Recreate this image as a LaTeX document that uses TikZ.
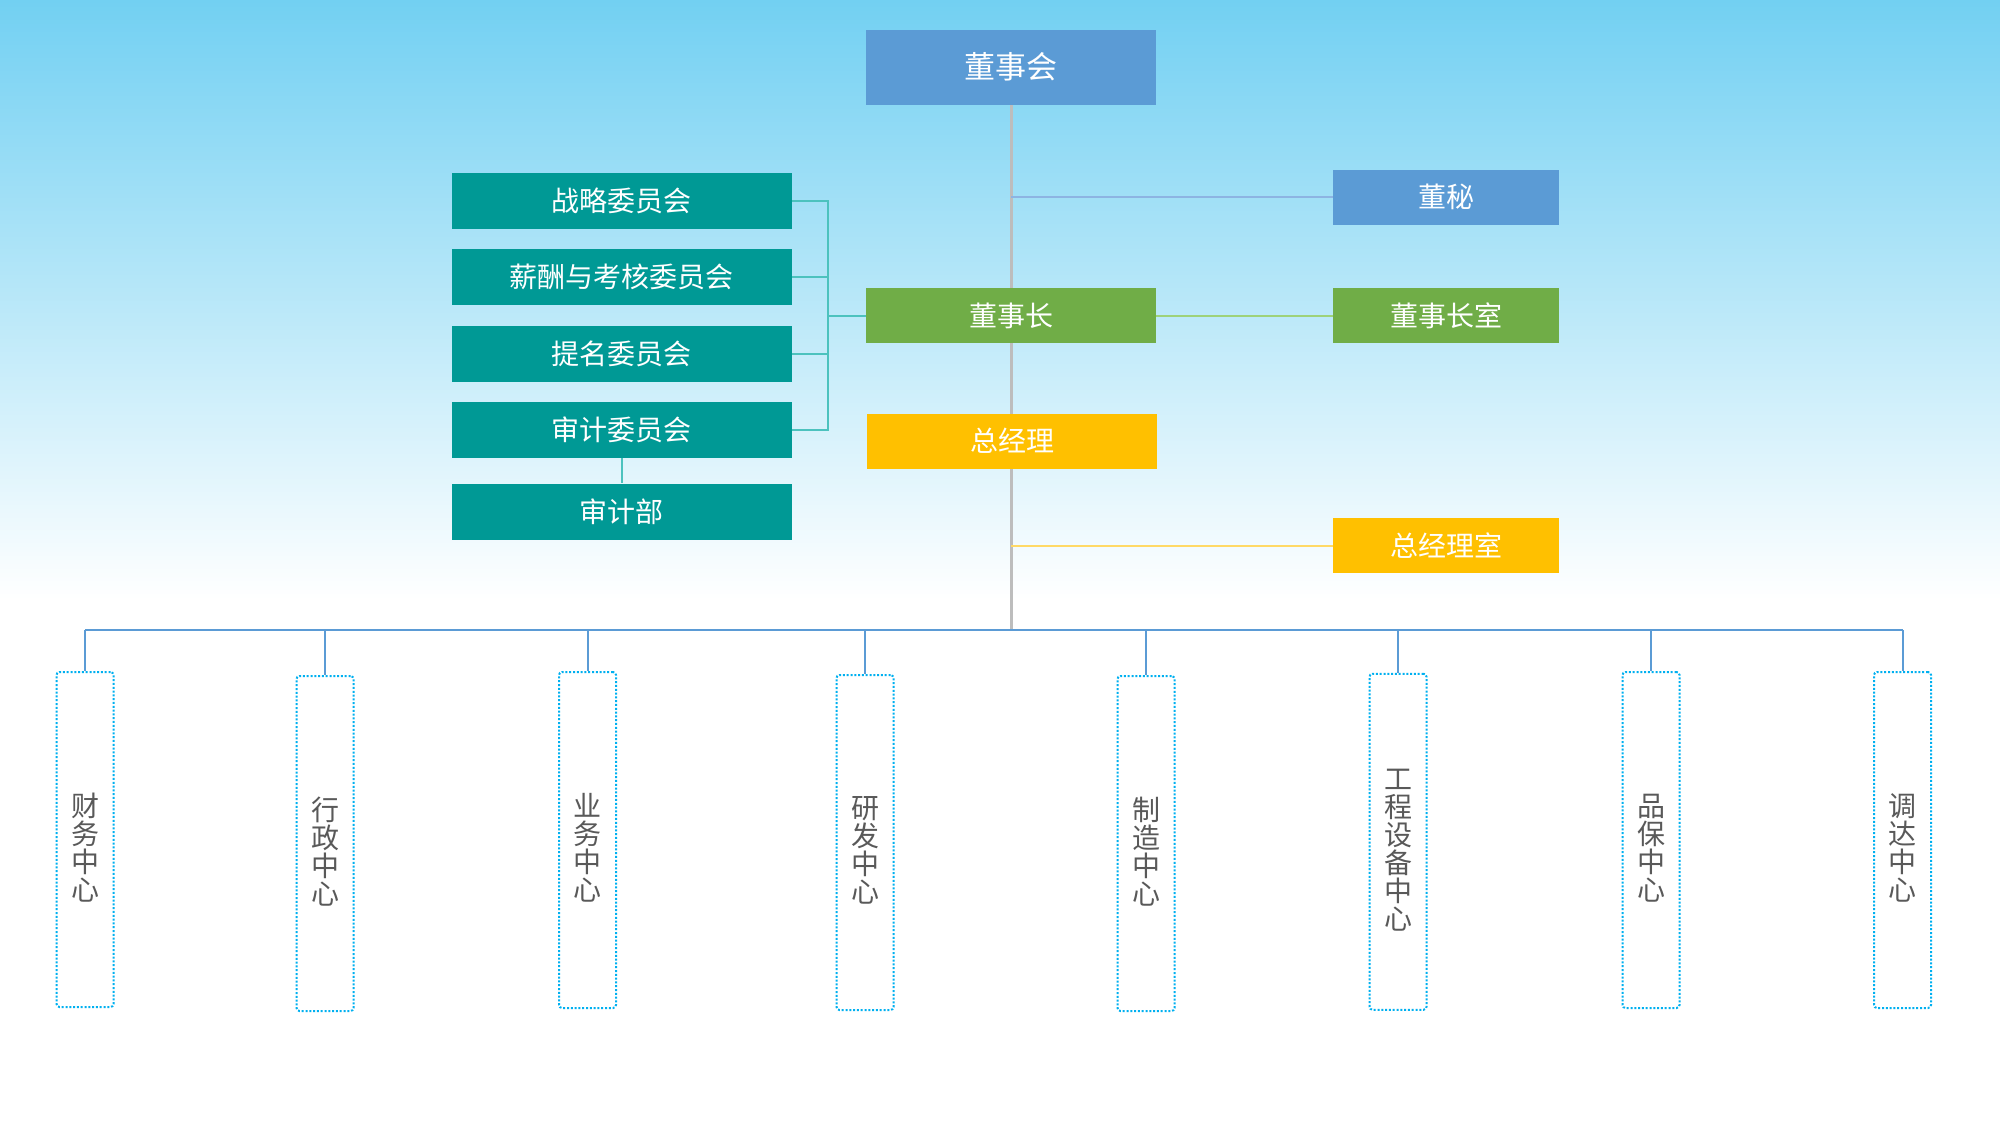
\documentclass[tikz,border=0pt]{standalone}
\usepackage{fontspec}
\newfontfamily\cjk{Noto Sans CJK SC}
\definecolor{cblue}{HTML}{5B9BD5}
\definecolor{cgreen}{HTML}{70AD47}
\definecolor{cyellow}{HTML}{FFC000}
\definecolor{cteal}{HTML}{009995}
\definecolor{cgray}{HTML}{BDBDBD}
\definecolor{lblue}{HTML}{8DB4E2}
\definecolor{lgreen}{HTML}{9ED27A}
\definecolor{lyellow}{HTML}{FFD966}
\definecolor{lteal}{HTML}{4CC2BE}
\definecolor{cdot}{HTML}{00B0F0}
\definecolor{tgray}{HTML}{595959}
\definecolor{bgtop}{RGB}{114,208,242}
\pgfdeclarelayer{back}
\pgfdeclarelayer{bg}
\pgfsetlayers{back,bg,main}
\tikzset{
  box/.style={rectangle, inner sep=0pt, text=white, font=\cjk\fontsize{14}{16}\selectfont},
  topbox/.style={box, minimum width=145pt, minimum height=27.5pt},
  sidebox/.style={box, minimum width=113pt, minimum height=27.5pt},
  combox/.style={box, fill=cteal, minimum width=170pt, minimum height=28pt},
  vbox/.style={rectangle, draw=cdot, line width=1pt, dash pattern=on 1pt off 0.9pt,
    rounded corners=1.5pt, minimum width=28.5pt, inner sep=0pt},
  vtext/.style={inner sep=0pt, align=center, text=tgray,
    font=\cjk\fontsize{14}{14}\selectfont, yshift=-4pt},
  grayline/.style={draw=cgray, line width=1.5pt},
  blueline/.style={draw=lblue, line width=1pt},
  greenline/.style={draw=lgreen, line width=1pt},
  yelline/.style={draw=lyellow, line width=1pt},
  tealline/.style={draw=lteal, line width=1pt},
  busline/.style={draw=cblue, line width=1pt}
}
\begin{document}
\begin{tikzpicture}[x=0.5pt,y=-0.5pt]
\useasboundingbox (0,0) rectangle (2000,1126);
\begin{pgfonlayer}{back}
  \fill[white] (0,0) rectangle (2000,1126);
  \shade[top color=bgtop, bottom color=white] (0,0) rectangle (2000,600);
\end{pgfonlayer}

% top nodes
\node[box, fill=cblue, minimum width=145pt, minimum height=37.5pt,
      font=\cjk\fontsize{15.5}{18}\selectfont] (dsh) at (1011,67) {董事会};
\node[sidebox, fill=cblue] (dm) at (1446,197) {董秘};
\node[topbox, fill=cgreen] (dsz) at (1011,315.5) {董事长};
\node[sidebox, fill=cgreen] (dszs) at (1446,315.5) {董事长室};
\node[topbox, fill=cyellow] (zjl) at (1012,441) {总经理};
\node[sidebox, fill=cyellow] (zjls) at (1446,545.5) {总经理室};

% committees
\node[combox] (c1) at (621.5,201) {战略委员会};
\node[combox] (c2) at (621.5,277) {薪酬与考核委员会};
\node[combox] (c3) at (621.5,353.5) {提名委员会};
\node[combox] (c4) at (621.5,430) {审计委员会};
\node[combox] (c5) at (621.5,511.5) {审计部};

% centers
\node[vbox, minimum height=167.5pt, label={[vtext]center:财\\务\\中\\心}] (b1) at (85,839.5) {};
\node[vbox, minimum height=167.5pt, label={[vtext]center:行\\政\\中\\心}] (b2) at (325,843.5) {};
\node[vbox, minimum height=168pt, label={[vtext]center:业\\务\\中\\心}] (b3) at (587.5,840) {};
\node[vbox, minimum height=167.5pt, label={[vtext]center:研\\发\\中\\心}] (b4) at (865,842.5) {};
\node[vbox, minimum height=167.5pt, label={[vtext]center:制\\造\\中\\心}] (b5) at (1146,843.5) {};
\node[vbox, minimum height=168pt, label={[vtext]center:工\\程\\设\\备\\中\\心}] (b6) at (1398,841.75) {};
\node[vbox, minimum height=168pt, label={[vtext]center:品\\保\\中\\心}] (b7) at (1651,840) {};
\node[vbox, minimum height=168pt, label={[vtext]center:调\\达\\中\\心}] (b8) at (1902.5,840) {};

\coordinate (bus) at (1011,630);
\coordinate (busL) at (85,630);
\coordinate (busR) at (1902.5,630);
\coordinate (dmj) at (1011,197);
\coordinate (zjj) at (1011,545.5);
\coordinate (br) at (828,315.5);

\begin{pgfonlayer}{bg}
  \draw[grayline] (dsh.south) -- (bus);
  \draw[blueline] (dmj) -- (dm.west);
  \draw[greenline] (dsz.east) -- (dszs.west);
  \draw[yelline] (zjj) -- (zjls.west);
  \draw[tealline] (c1.east) -- (c1.east -| br) -- (c4.east -| br) -- (c4.east);
  \draw[tealline] (c2.east) -- (c2.east -| br);
  \draw[tealline] (c3.east) -- (c3.east -| br);
  \draw[tealline] (br) -- (dsz.west);
  \draw[tealline] (c4.south) -- (c5.north);
  \draw[busline] (busL) -- (busR);
  \foreach \b in {b1,b2,b3,b4,b5,b6,b7,b8}
    \draw[busline] (\b.north |- busL) -- (\b.north);
\end{pgfonlayer}
\end{tikzpicture}
\end{document}
